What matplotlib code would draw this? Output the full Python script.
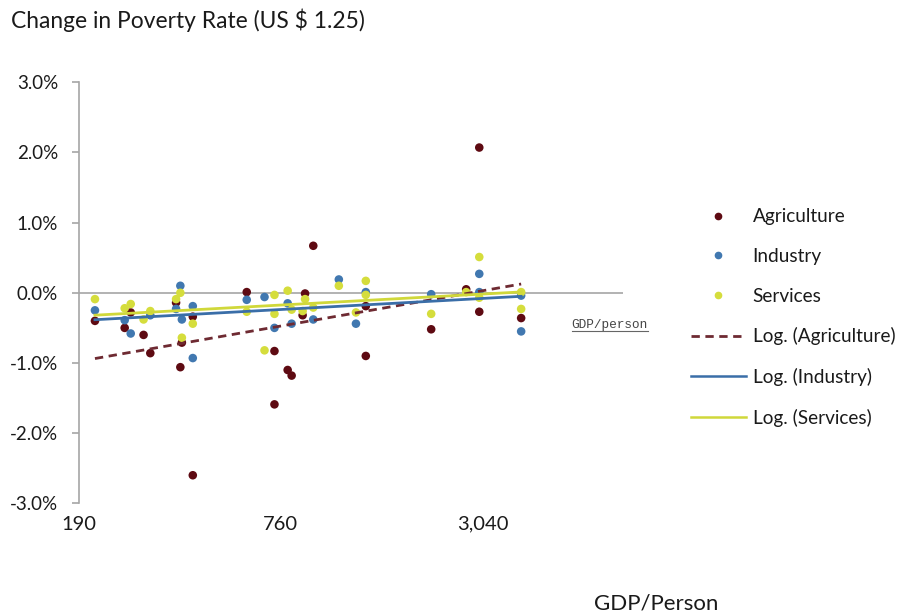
import numpy as np
import matplotlib.pyplot as plt
from matplotlib.lines import Line2D
from matplotlib.ticker import FuncFormatter, FixedLocator

plt.rcParams['font.family'] = ['Lato', 'DejaVu Sans']

# ── GDP per person (US$) and change in poverty rate (%) ───────────────────────
agri_gdp = [212, 260, 271, 296, 310, 370, 385, 381, 415, 415,
            601, 727, 727, 796, 818, 897, 882, 949, 1361, 1361,
            2132, 2711, 2966, 2966, 3954]
agri_chg = [-0.40, -0.50, -0.28, -0.60, -0.86, -0.14, -0.71, -1.06, -0.34, -2.60,
            0.01, -0.83, -1.59, -1.10, -1.18, -0.01, -0.32, 0.67, -0.19, -0.90,
            -0.52, 0.05, 2.07, -0.27, -0.36]

ind_gdp = [212, 260, 271, 310, 370, 381, 385, 415, 415, 601,
           679, 727, 796, 818, 949, 1131, 1272, 1361, 2132, 2966,
           2966, 3954, 3954]
ind_chg = [-0.25, -0.39, -0.58, -0.32, -0.23, 0.10, -0.38, -0.19, -0.93, -0.10,
           -0.06, -0.50, -0.15, -0.44, -0.38, 0.19, -0.44, 0.01, -0.02, 0.27,
           0.01, -0.04, -0.55]

serv_gdp = [212, 260, 271, 296, 310, 370, 381, 385, 415, 601,
            679, 727, 727, 796, 818, 897, 882, 949, 1131, 1272,
            1361, 1361, 2132, 2711, 2966, 2966, 3954, 3954]
serv_chg = [-0.09, -0.22, -0.16, -0.38, -0.26, -0.09, 0.00, -0.64, -0.44, -0.27,
            -0.82, -0.03, -0.30, 0.03, -0.24, -0.09, -0.26, -0.21, 0.10, -0.28,
            0.17, -0.03, -0.30, 0.01, 0.51, -0.07, 0.01, -0.23]

x_ticks = [190, 760, 3040]
y_ticks = [-3, -2, -1, 0, 1, 2, 3]

c_agri = "#5e0a12"
c_ind = "#4178b0"
c_serv = "#d5dd3c"
c_agri_fit = "#6e2a32"
c_ind_fit = "#3a6ea8"
c_serv_fit = "#d0d83a"
c_axis = "#a6a6a6"

fig = plt.figure(figsize=(9.08, 6.15), dpi=100)
ax = fig.add_axes([0.087, 0.1816, 0.599, 0.6846])

ax.set_xscale("log")
ax.set_xlim(190, 7950)
ax.set_ylim(-3, 3)

# scatter of each sector
for gdp, chg, col in [(agri_gdp, agri_chg, c_agri),
                      (ind_gdp, ind_chg, c_ind),
                      (serv_gdp, serv_chg, c_serv)]:
    ax.scatter(gdp, chg, s=38, color=col, edgecolors="none", zorder=3)

# logarithmic trend lines: y = a*ln(x) + b over the data range
def log_fit(gdp, chg):
    gdp = np.asarray(gdp, float)
    a, b = np.polyfit(np.log(gdp), chg, 1)
    xs = np.geomspace(gdp.min(), gdp.max(), 100)
    return xs, a * np.log(xs) + b

xs, ys = log_fit(agri_gdp, agri_chg)
ax.plot(xs, ys, color=c_agri_fit, lw=2, dashes=(3, 2), zorder=4)
xs, ys = log_fit(ind_gdp, ind_chg)
ax.plot(xs, ys, color=c_ind_fit, lw=2, zorder=4)
xs, ys = log_fit(serv_gdp, serv_chg)
ax.plot(xs, ys, color=c_serv_fit, lw=2, zorder=4)

# zero line acts as the horizontal axis
ax.axhline(0, color=c_axis, lw=1.2, zorder=2)

for side in ["top", "right", "bottom"]:
    ax.spines[side].set_visible(False)
ax.spines["left"].set_color(c_axis)
ax.spines["left"].set_linewidth(1.2)

ax.yaxis.set_major_locator(FixedLocator(y_ticks))
ax.yaxis.set_major_formatter(FuncFormatter(lambda v, p: f"{v:.1f}%"))
ax.tick_params(axis="y", direction="out", length=5, width=1.2, color=c_axis,
               labelsize=13.5, labelcolor="#1a1a1a", pad=10)

ax.xaxis.set_major_locator(FixedLocator(x_ticks))
ax.xaxis.set_minor_locator(FixedLocator([]))
ax.xaxis.set_major_formatter(FuncFormatter(lambda v, p: f"{v:,.0f}"))
ax.tick_params(axis="x", length=0, labelsize=14.5, labelcolor="#1a1a1a", pad=9)

# small axis caption next to the zero line
fig.text(0.6295, 0.4715, "GDP/person", family="Liberation Mono", fontsize=9.2,
         color="#444444", ha="left", va="center")
fig.add_artist(Line2D([0.6295, 0.7135], [0.461, 0.461], color="#666666", lw=0.8))

fig.text(0.0125, 0.967, "Change in Poverty Rate (US \\$ 1.25)", fontsize=16.4,
         color="#1a1a1a", ha="left", va="center")
fig.text(0.7225, 0.019, "GDP/Person", fontsize=16, color="#1a1a1a",
         ha="center", va="center")

handles = [
    Line2D([], [], ls="none", marker="o", ms=4.5, color=c_agri),
    Line2D([], [], ls="none", marker="o", ms=4.5, color=c_ind),
    Line2D([], [], ls="none", marker="o", ms=4.5, color=c_serv),
    Line2D([], [], color=c_agri_fit, lw=2, dashes=(3, 2)),
    Line2D([], [], color=c_ind_fit, lw=1.8),
    Line2D([], [], color=c_serv_fit, lw=1.8),
]
labels = ["Agriculture", "Industry", "Services",
          "Log. (Agriculture)", "Log. (Industry)", "Log. (Services)"]
fig.legend(handles, labels, loc="upper left", bbox_to_anchor=(0.742, 0.689),
           frameon=False, fontsize=13.7, labelspacing=1.19, handlelength=2.9,
           handletextpad=0.35, labelcolor="#1a1a1a")

fig.savefig("out.png", dpi=100)
